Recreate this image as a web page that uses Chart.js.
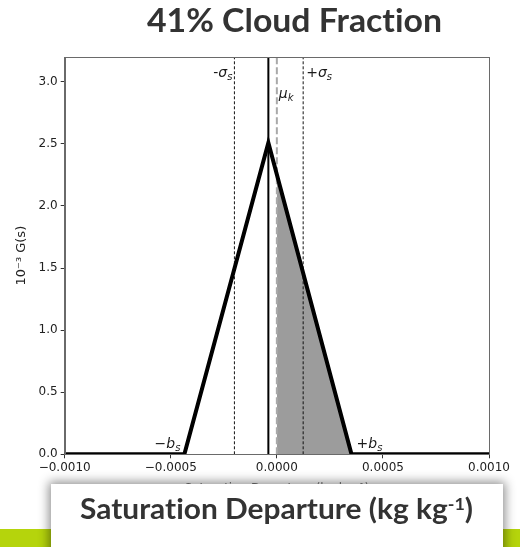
<!DOCTYPE html>
<html>
<head>
<meta charset="utf-8">
<script src="https://cdn.jsdelivr.net/npm/chart.js@4"></script>
<style>
  html, body { margin: 0; padding: 0; background: #fff; }
  #wrap { position: relative; width: 520px; height: 547px; overflow: hidden; background: #fff; }
  #chart { position: absolute; left: 0; top: 0; }
  .txt { position: absolute; white-space: nowrap; font-family: Lato, "Open Sans", sans-serif; font-weight: 700; color: #333; transform-origin: left top; font-variant-ligatures: none; font-feature-settings: "liga" 0; }
  #title { top: 0px; font-size: 32px; line-height: 40px; }
  #band { position: absolute; left: 0; top: 529px; width: 520px; height: 18px; background: #b5d40c; }
  #box { position: absolute; left: 51px; top: 484px; width: 452px; height: 80px; background: #fff; box-shadow: 0 0 10px 2px rgba(0,0,0,0.45); }
  #xlab { top: 488px; font-size: 28px; line-height: 40px; }
  #xlab sup { font-size: 0.6em; vertical-align: 0; position: relative; top: -0.55em; }
</style>
</head>
<body>
<div id="wrap">
  <canvas id="chart" width="520" height="547"></canvas>
  <div class="txt" id="title">41% Cloud Fraction</div>
  <div id="band"></div>
  <div id="box"></div>
  <div class="txt" id="xlab">Saturation Departure (kg kg<sup>-1</sup>)</div>
</div>
<script>
// Triangular PDF of saturation departure s (kg/kg), G(s) in units of 10^3
const xLimits = [-0.001, 0.001];
const yLimits = [0, 3.2];
const xTickStep = 0.0005;
const yTickStep = 0.5;
const pdfX = [-0.001, -0.000436, -0.00004, 0.000352, 0.001];
const pdfY = [0, 0, 2.51, 0, 0];
const meanS = -0.00004;            // mean of the distribution
const sigmaBounds = [-0.0002, 0.000124];  // mean -/+ one standard deviation
const muK = 0;                     // saturation threshold
const halfWidth = [-0.000436, 0.000352];  // -b_s, +b_s
const yLabelSigma = 3.07;
const yLabelMu = 2.9;
const yLabelB = 0.08;

// value of the PDF line at a given s (read along its segments)
function pdfAt(x) {
  for (let i = 0; i < pdfX.length - 1; i++) {
    if (x >= pdfX[i] && x <= pdfX[i + 1]) {
      const t = (x - pdfX[i]) / (pdfX[i + 1] - pdfX[i]);
      return pdfY[i] + t * (pdfY[i + 1] - pdfY[i]);
    }
  }
  return 0;
}

const pdfPoints = pdfX.map((x, i) => ({ x, y: pdfY[i] }));
// cloudy part: s above the threshold
const cloudPoints = [{ x: muK, y: 0 }, { x: muK, y: pdfAt(muK) }]
  .concat(pdfX.filter(x => x > muK && pdfAt(x) > 0).map(x => ({ x, y: pdfAt(x) })))
  .concat([{ x: halfWidth[1], y: 0 }]);
const vline = (x) => [{ x, y: yLimits[0] }, { x, y: yLimits[1] }];

const fmtMinus = (v, d) => {
  const s = Math.abs(v) < 1e-12 ? (0).toFixed(d) : v.toFixed(d);
  return s.replace('-', '\u2212');
};

// frame on all four sides
const framePlugin = {
  id: 'frame',
  afterDraw(chart) {
    const { ctx, chartArea: a } = chart;
    ctx.save();
    ctx.strokeStyle = '#6a6a6a';
    ctx.lineWidth = 1;
    ctx.strokeRect(Math.round(a.left) + 0.5, Math.round(a.top) + 0.5,
      Math.round(a.right - a.left), Math.round(a.bottom - a.top));
    ctx.restore();
  }
};

// math-style labels: symbol with italic subscript
function drawMathLabel(ctx, x, y, prefix, sym, sub, align) {
  const base = '14px "DejaVu Sans"';
  const ital = 'italic 14px "DejaVu Sans"';
  const subF = 'italic 10px "DejaVu Sans"';
  ctx.font = base; const w1 = ctx.measureText(prefix).width;
  ctx.font = ital; const w2 = ctx.measureText(sym).width;
  ctx.font = subF; const w3 = ctx.measureText(sub).width;
  const total = w1 + w2 + w3;
  let sx = align === 'right' ? x - total : x;
  ctx.textBaseline = 'middle';
  ctx.textAlign = 'left';
  ctx.fillStyle = '#1a1a1a';
  ctx.font = base; ctx.fillText(prefix, sx, y);
  ctx.font = ital; ctx.fillText(sym, sx + w1, y);
  ctx.font = subF; ctx.fillText(sub, sx + w1 + w2, y + 4);
}

const labelPlugin = {
  id: 'mathLabels',
  afterDatasetsDraw(chart) {
    const { ctx, scales: { x, y } } = chart;
    ctx.save();
    drawMathLabel(ctx, x.getPixelForValue(sigmaBounds[0]) - 2, y.getPixelForValue(yLabelSigma), '-', '\u03c3', 's', 'right');
    drawMathLabel(ctx, x.getPixelForValue(sigmaBounds[1]) + 3, y.getPixelForValue(yLabelSigma), '+', '\u03c3', 's', 'left');
    drawMathLabel(ctx, x.getPixelForValue(muK) + 2, y.getPixelForValue(yLabelMu), '', '\u03bc', 'k', 'left');
    drawMathLabel(ctx, x.getPixelForValue(halfWidth[0]) - 4, y.getPixelForValue(yLabelB), '\u2212', 'b', 's', 'right');
    drawMathLabel(ctx, x.getPixelForValue(halfWidth[1]) + 5, y.getPixelForValue(yLabelB), '+', 'b', 's', 'left');
    ctx.restore();
  }
};

const tickFont = { family: '"DejaVu Sans"', size: 12 };

new Chart(document.getElementById('chart'), {
  type: 'scatter',
  data: {
    datasets: [
      { data: cloudPoints, showLine: true, fill: 'origin', backgroundColor: '#9c9c9c', borderWidth: 0, pointRadius: 0, order: 5 },
      { data: vline(sigmaBounds[0]), showLine: true, borderColor: '#111', borderWidth: 1, borderDash: [3, 2], pointRadius: 0, order: 4 },
      { data: vline(sigmaBounds[1]), showLine: true, borderColor: '#111', borderWidth: 1, borderDash: [3, 2], pointRadius: 0, order: 4 },
      { data: vline(muK), showLine: true, borderColor: '#a9a9a9', borderWidth: 2, borderDash: [7, 3], pointRadius: 0, order: 3 },
      { data: vline(meanS), showLine: true, borderColor: '#000', borderWidth: 2, pointRadius: 0, order: 2 },
      { data: pdfPoints, showLine: true, borderColor: '#000', borderWidth: 4, borderJoinStyle: 'miter', pointRadius: 0, order: 1 }
    ]
  },
  options: {
    responsive: false,
    animation: false,
    events: [],
    layout: { padding: { left: 0, top: 57, right: 31, bottom: 0 } },
    plugins: { legend: { display: false }, tooltip: { enabled: false } },
    scales: {
      x: {
        type: 'linear',
        min: xLimits[0], max: xLimits[1],
        afterFit(s) { s.height = 92.7; },
        grid: { display: true, drawOnChartArea: false, drawTicks: true, tickLength: 4, color: '#333' },
        border: { display: true, color: '#6a6a6a' },
        ticks: { stepSize: xTickStep, includeBounds: false, maxRotation: 0, autoSkip: false, padding: 2, color: '#222', font: tickFont,
          callback: v => fmtMinus(v, 4) },
        title: { display: true, text: 'Saturation Departure (kg kg\u207b\u00b9)', color: '#777', font: { family: '"DejaVu Sans"', size: 12 }, padding: { top: 0, bottom: 51 } }
      },
      y: {
        type: 'linear',
        min: yLimits[0], max: yLimits[1],
        afterFit(s) { s.width = 64.7; },
        grid: { display: true, drawOnChartArea: false, drawTicks: true, tickLength: 4, color: '#333' },
        border: { display: true, color: '#6a6a6a' },
        ticks: { stepSize: yTickStep, includeBounds: false, padding: 3, color: '#222', font: tickFont,
          callback: v => v.toFixed(1) },
        title: { display: true, text: '10\u207b\u00b3 G(s)', color: '#222', font: { family: '"DejaVu Sans"', size: 13 }, padding: { top: 14, bottom: 0 } }
      }
    }
  },
  plugins: [framePlugin, labelPlugin]
});

// fit the two headline texts to their spans
function fitText(id, left, right) {
  const el = document.getElementById(id);
  const w = el.getBoundingClientRect().width;
  const k = (right - left) / w;
  el.style.left = left + 'px';
  el.style.transform = 'scaleX(' + k + ')';
}
fitText('title', 147, 442);
fitText('xlab', 80, 473);
</script>
</body>
</html>
